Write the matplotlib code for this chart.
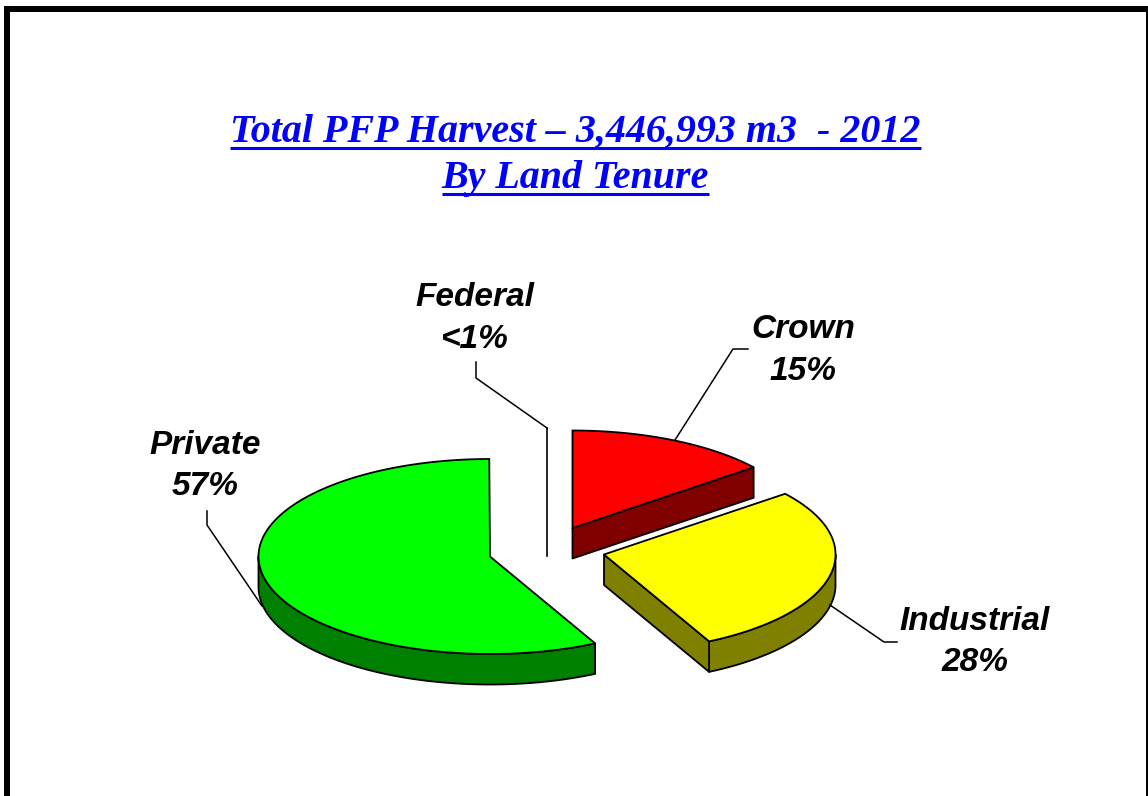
import matplotlib
matplotlib.use("Agg")
import matplotlib.pyplot as plt
import numpy as np

categories = ["Crown", "Industrial", "Private", "Federal"]
shares = [14.3, 28.2, 57.45, 0.05]
share_labels = ["15%", "28%", "57%", "<1%"]
top_colors = ["#ff0000", "#ffff00", "#00ff00", "#0000ff"]
side_colors = ["#800000", "#808000", "#008000", "#000080"]
title_lines = ["Total PFP Harvest \u2013 3,446,993 m3  - 2012", "By Land Tenure"]

# pie layout in pixels
RX, RY, DEPTH = 231.5, 97.5, 30.5
vertices = {"Crown": (572.5, 528), "Industrial": (604, 554.5), "Private": (490, 556.5), "Federal": (547, 525.5)}
label_pos = {"Crown": (803, 330), "Industrial": (975, 621), "Private": (205, 445), "Federal": (475, 298)}
leaders = {
    "Crown": [(675, 440), (733, 349), (748, 349)],
    "Industrial": [(830, 605), (884, 642), (897, 642)],
    "Private": [(207, 511), (207, 525), (262, 606)],
    "Federal": [(476, 362), (476, 378), (547, 428)],
}

fig = plt.figure(figsize=(11.48, 7.96), dpi=100)
ax = fig.add_axes([0, 0, 1, 1])
ax.set_xlim(0, 1148)
ax.set_ylim(796, 0)
ax.axis("off")

# frame runs off the bottom and right of the slide
ax.plot([7, 7, 1149, 1149], [800, 9, 9, 800], color="black", lw=4.32, solid_joinstyle="miter")


def rim(cx, cy, a0, a1):
    # angles are clockwise from 12 o'clock, in degrees
    t = np.radians(np.linspace(a0, a1, max(int(abs(a1 - a0) * 2), 2)))
    return np.column_stack([cx + RX * np.sin(t), cy - RY * np.cos(t)])


def wall(pts, color):
    lower = pts[::-1] + [0, DEPTH]
    ax.fill(*np.vstack([pts, lower]).T, facecolor=color, edgecolor="black", lw=1.3, joinstyle="round")


edges = np.cumsum([0] + shares) / sum(shares) * 360
for name, a0, a1, top, side in zip(categories, edges[:-1], edges[1:], top_colors, side_colors):
    cx, cy = vertices[name]
    if name == "Federal":
        # too thin to show any colour, only its outline is seen
        ax.plot([cx, cx], [cy - RY, cy + DEPTH], color="black", lw=1.2)
        continue
    # front part of the rim
    if a0 < 270 and a1 > 90:
        wall(rim(cx, cy, max(a0, 90), min(a1, 270)), side)
    # cut faces turned to the viewer
    if np.sin(np.radians(a1)) > 0.01:
        wall(np.vstack([[cx, cy], rim(cx, cy, a1, a1)[:1]]), side)
    if np.sin(np.radians(a0)) < -0.01:
        wall(np.vstack([[cx, cy], rim(cx, cy, a0, a0)[:1]]), side)
    ax.fill(*np.vstack([[cx, cy], rim(cx, cy, a0, a1)]).T, facecolor=top, edgecolor="black", lw=1.3)

for name, lab in zip(categories, share_labels):
    x, y = label_pos[name]
    ax.text(x, y, name, ha="center", va="center", family="Liberation Sans",
            style="italic", weight="bold", fontsize=24, color="black")
    ax.text(x, y + 41.5, lab, ha="center", va="center", family="Liberation Sans",
            style="italic", weight="bold", fontsize=24, color="black")
    xs, ys = zip(*leaders[name])
    ax.plot(xs, ys, color="black", lw=1.1)

# title, with underlines drawn from the text extents
renderer = fig.canvas.get_renderer()
for line, base in zip(title_lines, [142, 188]):
    t = ax.text(575.5, base, line, ha="center", va="baseline", family="Liberation Serif",
                style="italic", weight="bold", fontsize=28.8, color="#0000ff")
    bb = t.get_window_extent(renderer)
    ax.plot([bb.x0, bb.x1], [base + 5.5, base + 5.5], color="#0000ff", lw=2.2, solid_capstyle="butt")

fig.savefig("out.png", dpi=100, facecolor="white")
